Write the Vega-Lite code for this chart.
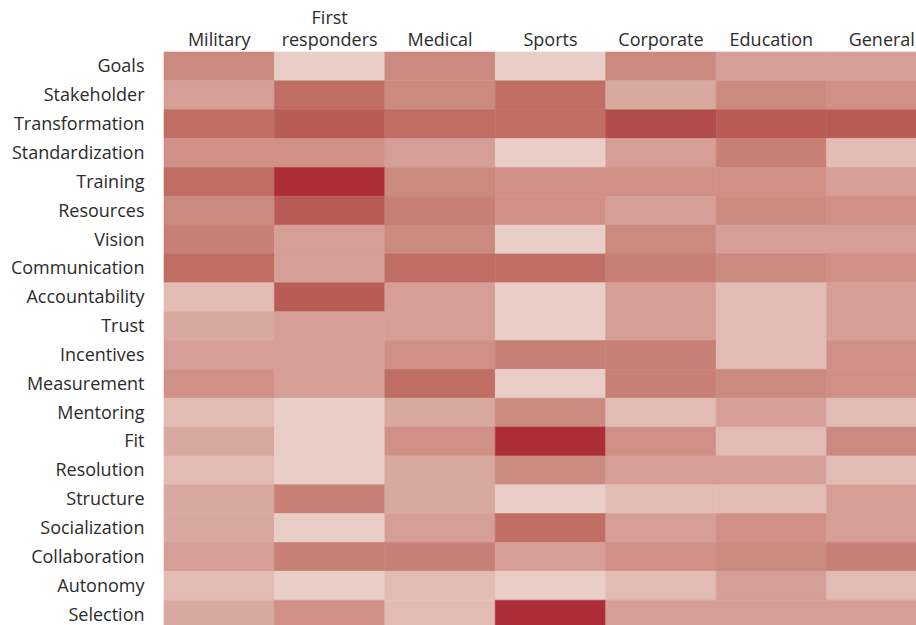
{
  "$schema": "https://vega.github.io/schema/vega-lite/v6.json",
  "autosize": "none",
  "padding": {"left": 164, "top": 52, "right": 0, "bottom": 0},
  "width": 773,
  "height": 577,
  "background": "white",
  "config": {"view": {"stroke": null}},
  "datasets": {
    "grid": [
      {"factor": "Goals", "sector": "Military", "level": 5},
      {"factor": "Goals", "sector": "First responders", "level": 0},
      {"factor": "Goals", "sector": "Medical", "level": 5},
      {"factor": "Goals", "sector": "Sports", "level": 0},
      {"factor": "Goals", "sector": "Corporate", "level": 5},
      {"factor": "Goals", "sector": "Education", "level": 3},
      {"factor": "Goals", "sector": "General", "level": 3},
      {"factor": "Stakeholder", "sector": "Military", "level": 3},
      {"factor": "Stakeholder", "sector": "First responders", "level": 7},
      {"factor": "Stakeholder", "sector": "Medical", "level": 5},
      {"factor": "Stakeholder", "sector": "Sports", "level": 7},
      {"factor": "Stakeholder", "sector": "Corporate", "level": 2},
      {"factor": "Stakeholder", "sector": "Education", "level": 5},
      {"factor": "Stakeholder", "sector": "General", "level": 4},
      {"factor": "Transformation", "sector": "Military", "level": 7},
      {"factor": "Transformation", "sector": "First responders", "level": 8},
      {"factor": "Transformation", "sector": "Medical", "level": 7},
      {"factor": "Transformation", "sector": "Sports", "level": 7},
      {"factor": "Transformation", "sector": "Corporate", "level": 9},
      {"factor": "Transformation", "sector": "Education", "level": 8},
      {"factor": "Transformation", "sector": "General", "level": 8},
      {"factor": "Standardization", "sector": "Military", "level": 4},
      {"factor": "Standardization", "sector": "First responders", "level": 4},
      {"factor": "Standardization", "sector": "Medical", "level": 3},
      {"factor": "Standardization", "sector": "Sports", "level": 0},
      {"factor": "Standardization", "sector": "Corporate", "level": 3},
      {"factor": "Standardization", "sector": "Education", "level": 6},
      {"factor": "Standardization", "sector": "General", "level": 1},
      {"factor": "Training", "sector": "Military", "level": 7},
      {"factor": "Training", "sector": "First responders", "level": 10},
      {"factor": "Training", "sector": "Medical", "level": 5},
      {"factor": "Training", "sector": "Sports", "level": 4},
      {"factor": "Training", "sector": "Corporate", "level": 4},
      {"factor": "Training", "sector": "Education", "level": 4},
      {"factor": "Training", "sector": "General", "level": 3},
      {"factor": "Resources", "sector": "Military", "level": 5},
      {"factor": "Resources", "sector": "First responders", "level": 8},
      {"factor": "Resources", "sector": "Medical", "level": 6},
      {"factor": "Resources", "sector": "Sports", "level": 4},
      {"factor": "Resources", "sector": "Corporate", "level": 3},
      {"factor": "Resources", "sector": "Education", "level": 5},
      {"factor": "Resources", "sector": "General", "level": 4},
      {"factor": "Vision", "sector": "Military", "level": 6},
      {"factor": "Vision", "sector": "First responders", "level": 3},
      {"factor": "Vision", "sector": "Medical", "level": 5},
      {"factor": "Vision", "sector": "Sports", "level": 0},
      {"factor": "Vision", "sector": "Corporate", "level": 5},
      {"factor": "Vision", "sector": "Education", "level": 3},
      {"factor": "Vision", "sector": "General", "level": 3},
      {"factor": "Communication", "sector": "Military", "level": 7},
      {"factor": "Communication", "sector": "First responders", "level": 3},
      {"factor": "Communication", "sector": "Medical", "level": 7},
      {"factor": "Communication", "sector": "Sports", "level": 7},
      {"factor": "Communication", "sector": "Corporate", "level": 6},
      {"factor": "Communication", "sector": "Education", "level": 5},
      {"factor": "Communication", "sector": "General", "level": 4},
      {"factor": "Accountability", "sector": "Military", "level": 1},
      {"factor": "Accountability", "sector": "First responders", "level": 8},
      {"factor": "Accountability", "sector": "Medical", "level": 3},
      {"factor": "Accountability", "sector": "Sports", "level": 0},
      {"factor": "Accountability", "sector": "Corporate", "level": 3},
      {"factor": "Accountability", "sector": "Education", "level": 1},
      {"factor": "Accountability", "sector": "General", "level": 3},
      {"factor": "Trust", "sector": "Military", "level": 2},
      {"factor": "Trust", "sector": "First responders", "level": 3},
      {"factor": "Trust", "sector": "Medical", "level": 3},
      {"factor": "Trust", "sector": "Sports", "level": 0},
      {"factor": "Trust", "sector": "Corporate", "level": 3},
      {"factor": "Trust", "sector": "Education", "level": 1},
      {"factor": "Trust", "sector": "General", "level": 3},
      {"factor": "Incentives", "sector": "Military", "level": 3},
      {"factor": "Incentives", "sector": "First responders", "level": 3},
      {"factor": "Incentives", "sector": "Medical", "level": 4},
      {"factor": "Incentives", "sector": "Sports", "level": 6},
      {"factor": "Incentives", "sector": "Corporate", "level": 6},
      {"factor": "Incentives", "sector": "Education", "level": 1},
      {"factor": "Incentives", "sector": "General", "level": 4},
      {"factor": "Measurement", "sector": "Military", "level": 4},
      {"factor": "Measurement", "sector": "First responders", "level": 3},
      {"factor": "Measurement", "sector": "Medical", "level": 7},
      {"factor": "Measurement", "sector": "Sports", "level": 0},
      {"factor": "Measurement", "sector": "Corporate", "level": 6},
      {"factor": "Measurement", "sector": "Education", "level": 5},
      {"factor": "Measurement", "sector": "General", "level": 4},
      {"factor": "Mentoring", "sector": "Military", "level": 1},
      {"factor": "Mentoring", "sector": "First responders", "level": 0},
      {"factor": "Mentoring", "sector": "Medical", "level": 2},
      {"factor": "Mentoring", "sector": "Sports", "level": 5},
      {"factor": "Mentoring", "sector": "Corporate", "level": 1},
      {"factor": "Mentoring", "sector": "Education", "level": 3},
      {"factor": "Mentoring", "sector": "General", "level": 1},
      {"factor": "Fit", "sector": "Military", "level": 2},
      {"factor": "Fit", "sector": "First responders", "level": 0},
      {"factor": "Fit", "sector": "Medical", "level": 4},
      {"factor": "Fit", "sector": "Sports", "level": 10},
      {"factor": "Fit", "sector": "Corporate", "level": 4},
      {"factor": "Fit", "sector": "Education", "level": 1},
      {"factor": "Fit", "sector": "General", "level": 5},
      {"factor": "Resolution", "sector": "Military", "level": 1},
      {"factor": "Resolution", "sector": "First responders", "level": 0},
      {"factor": "Resolution", "sector": "Medical", "level": 2},
      {"factor": "Resolution", "sector": "Sports", "level": 5},
      {"factor": "Resolution", "sector": "Corporate", "level": 3},
      {"factor": "Resolution", "sector": "Education", "level": 3},
      {"factor": "Resolution", "sector": "General", "level": 1},
      {"factor": "Structure", "sector": "Military", "level": 2},
      {"factor": "Structure", "sector": "First responders", "level": 6},
      {"factor": "Structure", "sector": "Medical", "level": 2},
      {"factor": "Structure", "sector": "Sports", "level": 0},
      {"factor": "Structure", "sector": "Corporate", "level": 1},
      {"factor": "Structure", "sector": "Education", "level": 1},
      {"factor": "Structure", "sector": "General", "level": 3},
      {"factor": "Socialization", "sector": "Military", "level": 2},
      {"factor": "Socialization", "sector": "First responders", "level": 0},
      {"factor": "Socialization", "sector": "Medical", "level": 3},
      {"factor": "Socialization", "sector": "Sports", "level": 7},
      {"factor": "Socialization", "sector": "Corporate", "level": 3},
      {"factor": "Socialization", "sector": "Education", "level": 4},
      {"factor": "Socialization", "sector": "General", "level": 3},
      {"factor": "Collaboration", "sector": "Military", "level": 3},
      {"factor": "Collaboration", "sector": "First responders", "level": 6},
      {"factor": "Collaboration", "sector": "Medical", "level": 6},
      {"factor": "Collaboration", "sector": "Sports", "level": 3},
      {"factor": "Collaboration", "sector": "Corporate", "level": 4},
      {"factor": "Collaboration", "sector": "Education", "level": 5},
      {"factor": "Collaboration", "sector": "General", "level": 6},
      {"factor": "Autonomy", "sector": "Military", "level": 1},
      {"factor": "Autonomy", "sector": "First responders", "level": 0},
      {"factor": "Autonomy", "sector": "Medical", "level": 1},
      {"factor": "Autonomy", "sector": "Sports", "level": 0},
      {"factor": "Autonomy", "sector": "Corporate", "level": 1},
      {"factor": "Autonomy", "sector": "Education", "level": 3},
      {"factor": "Autonomy", "sector": "General", "level": 1},
      {"factor": "Selection", "sector": "Military", "level": 2},
      {"factor": "Selection", "sector": "First responders", "level": 4},
      {"factor": "Selection", "sector": "Medical", "level": 1},
      {"factor": "Selection", "sector": "Sports", "level": 10},
      {"factor": "Selection", "sector": "Corporate", "level": 3},
      {"factor": "Selection", "sector": "Education", "level": 3},
      {"factor": "Selection", "sector": "General", "level": 3}
    ]
  },
  "data": {"name": "grid"},
  "mark": {"type": "rect", "strokeWidth": 0.6},
  "encoding": {
    "x": {
      "field": "sector",
      "type": "nominal",
      "sort": null,
      "scale": {"paddingInner": 0, "paddingOuter": 0},
      "axis": {
        "orient": "top",
        "title": null,
        "domain": false,
        "ticks": false,
        "tickSize": 0,
        "labelAngle": 0,
        "labelPadding": 29,
        "labelFont": "Open Sans",
        "labelFontSize": 18,
        "labelColor": "#2b2b2b",
        "labelLineHeight": 22,
        "labelBaseline": "alphabetic",
        "labelExpr": "datum.value == 'First responders' ? ['First', 'responders'] : ['', datum.value]"
      }
    },
    "y": {
      "field": "factor",
      "type": "nominal",
      "sort": null,
      "scale": {"paddingInner": 0, "paddingOuter": 0},
      "axis": {
        "title": null,
        "domain": false,
        "ticks": false,
        "tickSize": 0,
        "labelPadding": 20,
        "labelOffset": 1,
        "labelFont": "Open Sans",
        "labelFontSize": 18,
        "labelColor": "#2b2b2b"
      }
    },
    "color": {
      "field": "level",
      "type": "quantitative",
      "legend": null,
      "scale": {
        "domain": [0, 1, 2, 3, 4, 5, 6, 7, 8, 9, 10],
        "range": ["#E9CEC7", "#E2BCB4", "#D9A99F", "#D59E96", "#D09088", "#CB8A80", "#C87F76", "#C06E63", "#B85C55", "#B34D4B", "#AD2E39"]
      }
    },
    "stroke": {
      "field": "level",
      "type": "quantitative",
      "legend": null,
      "scale": {
        "domain": [0, 1, 2, 3, 4, 5, 6, 7, 8, 9, 10],
        "range": ["#E9CEC7", "#E2BCB4", "#D9A99F", "#D59E96", "#D09088", "#CB8A80", "#C87F76", "#C06E63", "#B85C55", "#B34D4B", "#AD2E39"]
      }
    }
  }
}
